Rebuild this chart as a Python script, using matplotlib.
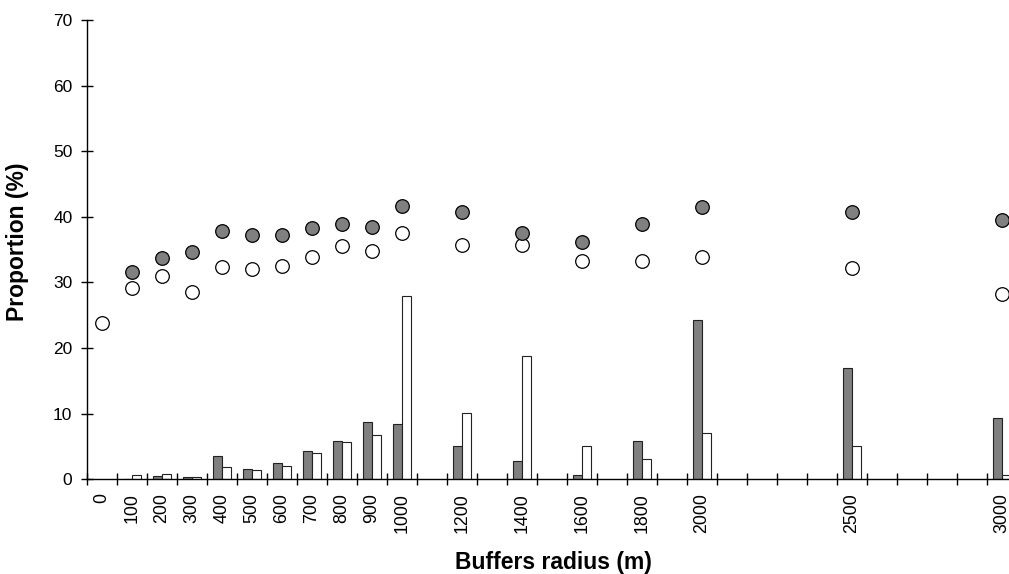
import matplotlib.pyplot as plt
import numpy as np

plt.rcParams['font.family'] = ['Liberation Sans', 'DejaVu Sans']

# buffer radii (m) that carry data
radius = [0, 100, 200, 300, 400, 500, 600, 700, 800, 900, 1000,
          1200, 1400, 1600, 1800, 2000, 2500, 3000]

# bars: dark = group A, white = group B (%)
bar_dark = [None, 0.1, 0.5, 0.3, 3.5, 1.5, 2.45, 4.3, 5.8, 8.7, 8.5,
            5.0, 2.75, 0.7, 5.9, 24.3, 16.9, 9.4]
bar_white = [None, 0.6, 0.8, 0.3, 1.8, 1.4, 2.0, 4.0, 5.7, 6.7, 27.9,
             10.1, 18.8, 5.0, 3.05, 7.0, 5.0, 0.6]

# points: dark = group A, white = group B (%)
pt_dark = [None, 31.6, 33.7, 34.6, 37.9, 37.3, 37.2, 38.3, 38.9, 38.5, 41.7,
           40.7, 37.5, 36.2, 38.9, 41.5, 40.7, 39.5]
pt_white = [23.8, 29.2, 31.0, 28.6, 32.3, 32.0, 32.5, 33.9, 35.5, 34.8, 37.5,
            35.7, 35.7, 33.3, 33.3, 33.9, 32.2, 28.3]

W, H = 1009, 574
fig = plt.figure(figsize=(W / 100, H / 100), dpi=100)
ax = fig.add_axes([86.7 / W, 1 - 479.3 / H, 930 / W, 459.4 / H])

x = np.array(radius, dtype=float)
bd = np.array([np.nan if v is None else v for v in bar_dark])
bw = np.array([np.nan if v is None else v for v in bar_white])
pd_ = np.array([np.nan if v is None else v for v in pt_dark])
pw = np.array([np.nan if v is None else v for v in pt_white])

grey = '#808080'
ax.bar(x - 15, bd, width=30, color=grey, edgecolor='#222222', linewidth=0.8, zorder=2)
ax.bar(x + 15, bw, width=30, color='white', edgecolor='#222222', linewidth=0.8, zorder=2)

ax.plot(x, pd_, 'o', ms=9.8, mfc=grey, mec='black', mew=0.9, zorder=4)
ax.plot(x, pw, 'o', ms=9.8, mfc='white', mec='black', mew=0.9, zorder=3)

ax.set_xlim(-50, 3050)
ax.set_ylim(0, 70)

ax.spines['top'].set_visible(False)
ax.spines['right'].set_visible(False)
for s in ('left', 'bottom'):
    ax.spines[s].set_linewidth(1.0)
    ax.spines[s].set_color('black')

ax.set_yticks(np.arange(0, 71, 10))
ax.tick_params(axis='y', direction='inout', length=8.6, width=1.0,
               labelsize=12.5, pad=6)

# tick marks sit between categories, labels sit on the data radii
ax.set_xticks(np.arange(-50, 3001, 100))
ax.set_xticklabels([])
ax.set_xticks(radius, minor=True)
ax.set_xticklabels([str(r) for r in radius], minor=True, rotation=90,
                   fontsize=12.8)
ax.tick_params(axis='x', which='major', direction='inout', length=8.6, width=1.0)
ax.tick_params(axis='x', which='minor', length=0, pad=10)

fig.text(553 / W, 1 - 562 / H, 'Buffers radius (m)', ha='center', va='center',
         fontsize=16.5, fontweight='bold')
fig.text(18 / W, 1 - 242 / H, 'Proportion (%)', ha='center', va='center',
         rotation=90, fontsize=16.5, fontweight='bold')

fig.savefig('out.png', dpi=100)
